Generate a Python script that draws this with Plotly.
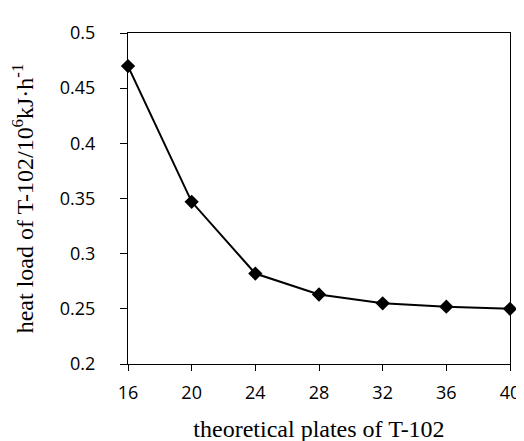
import plotly.graph_objects as go

# theoretical plates vs heat load
plates = [16, 20, 24, 28, 32, 36, 40]
heat_load = [0.470, 0.347, 0.282, 0.263, 0.255, 0.252, 0.250]

x_ticks = [16, 20, 24, 28, 32, 36, 40]
y_ticks = [0.2, 0.25, 0.3, 0.35, 0.4, 0.45, 0.5]
y_tick_text = ["0.2", "0.25", "0.3", "0.35", "0.4", "0.45", "0.5"]

fig = go.Figure()
fig.add_trace(go.Scatter(
    x=plates, y=heat_load, mode="lines+markers",
    line=dict(color="black", width=2),
    marker=dict(symbol="diamond", size=11, color="black"),
    cliponaxis=False, showlegend=False,
))

tick_font = dict(family="Open Sans", size=18, color="black")
title_font = dict(family="Liberation Serif", size=24, color="black")

fig.update_layout(
    width=524, height=441,
    margin=dict(l=120, r=12, t=24, b=83),
    paper_bgcolor="white", plot_bgcolor="white",
    xaxis=dict(
        range=[16, 40], tickvals=x_ticks, ticks="outside", ticklen=6,
        tickcolor="black", showline=True, linecolor="black", linewidth=1,
        mirror=True, showgrid=False, zeroline=False, tickfont=tick_font,
        ticklabelstandoff=6,
        title=dict(text="theoretical plates of T-102", font=title_font, standoff=17),
    ),
    yaxis=dict(
        range=[0.2, 0.5], tickvals=y_ticks, ticktext=y_tick_text,
        ticks="outside", ticklen=7, tickcolor="black",
        showline=True, linecolor="black", linewidth=1, mirror=True,
        showgrid=False, zeroline=False, tickfont=tick_font,
        ticklabelstandoff=21,
        title=dict(text="heat load of T-102/10<sup>6</sup>kJ·h<sup>-1</sup>",
                   font=title_font, standoff=20),
    ),
)

fig.write_html("out.html")
